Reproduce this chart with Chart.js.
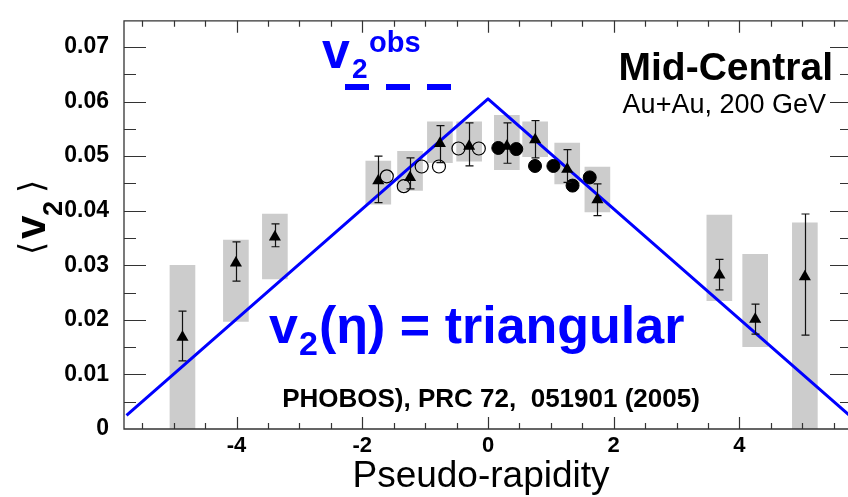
<!DOCTYPE html>
<html>
<head>
<meta charset="utf-8">
<title>PHOBOS v2 vs pseudo-rapidity</title>
<script src="https://cdn.jsdelivr.net/npm/chart.js@4.4.1/dist/chart.umd.min.js"></script>
<style>
  html, body { margin: 0; padding: 0; background: #fff; overflow: hidden; }
  body { width: 848px; height: 497px; }
  #v2-chart { display: block; }
</style>
</head>
<body>
<canvas id="v2-chart" width="860" height="497"></canvas>
<script>
// PHOBOS mid-central Au+Au 200 GeV, <v2> vs eta (triangles: stat errors + systematic bands)
const triEta   = [-4.86, -4.01, -3.39, -1.745, -1.24, -0.765, -0.30, 0.30, 0.75, 1.26, 1.74, 3.68, 4.25, 5.04];
const triV2    = [0.0168, 0.0304, 0.0352, 0.0455, 0.0461, 0.0523, 0.0518, 0.0518, 0.0530, 0.0476, 0.0420, 0.0282, 0.0201, 0.0279];
const triErrLo = [0.0125, 0.0271, 0.0334, 0.0415, 0.0440, 0.0488, 0.0482, 0.0487, 0.0497, 0.0452, 0.0391, 0.0255, 0.0174, 0.0172];
const triErrHi = [0.0216, 0.0343, 0.0376, 0.0500, 0.0497, 0.0556, 0.0561, 0.0561, 0.0565, 0.0512, 0.0449, 0.0311, 0.0229, 0.0394];
const sysLo    = [0.0000, 0.0197, 0.0275, 0.0412, 0.0437, 0.0488, 0.0491, 0.0475, 0.0499, 0.0449, 0.0398, 0.0235, 0.0151, 0.0000];
const sysHi    = [0.0300, 0.0346, 0.0394, 0.0491, 0.0509, 0.0563, 0.0563, 0.0575, 0.0563, 0.0524, 0.0480, 0.0392, 0.0320, 0.0378];

// hit-based points: open circles (eta < 0), filled circles (eta > 0)
const openEta   = [-1.61, -1.34, -1.055, -0.78, -0.47, -0.146];
const openV2    = [0.0463, 0.0445, 0.0481, 0.0481, 0.0514, 0.0514];
const filledEta = [0.164, 0.45, 0.748, 1.04, 1.345, 1.618];
const filledV2  = [0.0515, 0.0513, 0.0482, 0.0482, 0.0446, 0.0461];

// triangular v2(eta) shape
const modelEta = [-5.75, 0, 5.75];
const modelV2  = [0.0025, 0.0605, 0.0025];

const etaTicks = [-4, -2, 0, 2, 4];
const v2Ticks  = [0, 0.01, 0.02, 0.03, 0.04, 0.05, 0.06, 0.07];

const FONT = "'Liberation Sans', Arial, Helvetica, sans-serif";
const BLUE = '#0000ff';

const pts = (xs, ys) => xs.map((x, i) => ({ x: x, y: ys[i] }));

// frame with inward ticks, error bars and the text overlays
const overlay = {
  id: 'overlay',
  beforeDatasetDraw(chart, args) {
    if (args.index !== 0) return;
    const ctx = chart.ctx, xs = chart.scales.x, ys = chart.scales.y;
    ctx.save();
    ctx.strokeStyle = '#111';
    ctx.lineWidth = 1.2;
    triEta.forEach((eta, i) => {
      const px = Math.round(xs.getPixelForValue(eta)) + 0.5;
      const lo = ys.getPixelForValue(triErrLo[i]);
      const hi = ys.getPixelForValue(triErrHi[i]);
      ctx.beginPath();
      ctx.moveTo(px, lo); ctx.lineTo(px, hi);
      ctx.moveTo(px - 4, lo); ctx.lineTo(px + 4, lo);
      ctx.moveTo(px - 4, hi); ctx.lineTo(px + 4, hi);
      ctx.stroke();
    });
    ctx.restore();
  },
  afterDraw(chart) {
    const ctx = chart.ctx, xs = chart.scales.x, ys = chart.scales.y;
    const a = chart.chartArea;
    ctx.save();
    ctx.strokeStyle = '#333';
    ctx.lineWidth = 1.3;
    ctx.beginPath();
    ctx.moveTo(a.right, a.top); ctx.lineTo(a.left, a.top);
    ctx.lineTo(a.left, a.bottom); ctx.lineTo(a.right, a.bottom);
    ctx.lineTo(a.right, a.top);
    ctx.stroke();

    ctx.lineWidth = 1.2;
    ctx.beginPath();
    for (let k = Math.ceil(xs.min / 0.5); k * 0.5 <= xs.max; k++) {
      const px = Math.round(xs.getPixelForValue(k * 0.5)) + 0.5;
      const len = k % 4 === 0 ? 12 : 6;
      ctx.moveTo(px, a.bottom); ctx.lineTo(px, a.bottom - len);
      ctx.moveTo(px, a.top); ctx.lineTo(px, a.top + len);
    }
    for (let k = 1; k * 0.005 <= ys.max; k++) {
      const py = Math.round(ys.getPixelForValue(k * 0.005)) + 0.5;
      const len = k % 2 === 0 ? 22 : 12;
      ctx.moveTo(a.left, py); ctx.lineTo(a.left + len, py);
      ctx.moveTo(a.right, py); ctx.lineTo(a.right - len, py);
    }
    ctx.stroke();

    // y title: <v_2>, rotated
    ctx.save();
    ctx.translate(45, 258);
    ctx.rotate(-Math.PI / 2);
    ctx.fillStyle = '#000';
    ctx.textBaseline = 'alphabetic';
    ctx.font = "34px 'DejaVu Sans'";
    let m = ctx.measureText('\u27E8');
    ctx.fillText('\u27E8', -m.actualBoundingBoxLeft, 3 - m.actualBoundingBoxDescent);
    ctx.font = 'bold 42px ' + FONT;
    ctx.fillText('v', 19, 0);
    ctx.font = 'bold 27px ' + FONT;
    ctx.fillText('2', 42, 17);
    ctx.font = "34px 'DejaVu Sans'";
    m = ctx.measureText('\u27E9');
    ctx.fillText('\u27E9', 63 - m.actualBoundingBoxLeft, 3 - m.actualBoundingBoxDescent);
    ctx.restore();

    // x title
    ctx.fillStyle = '#000';
    ctx.textAlign = 'center';
    ctx.textBaseline = 'alphabetic';
    ctx.font = '37px ' + FONT;
    ctx.fillText('Pseudo-rapidity', 481, 487);

    // v2^obs legend with dashed sample
    ctx.fillStyle = BLUE;
    ctx.textAlign = 'left';
    ctx.font = 'bold 50px ' + FONT;
    ctx.fillText('v', 322, 68);
    ctx.font = 'bold 28px ' + FONT;
    ctx.fillText('2', 352, 78);
    ctx.font = 'bold 29px ' + FONT;
    ctx.fillText('obs', 369, 52);
    ctx.strokeStyle = BLUE;
    ctx.lineWidth = 6;
    ctx.setLineDash([24, 17]);
    ctx.beginPath();
    ctx.moveTo(345, 87); ctx.lineTo(453, 87);
    ctx.stroke();
    ctx.setLineDash([]);

    // v2(eta) = triangular
    ctx.font = 'bold 52px ' + FONT;
    ctx.fillText('v', 269, 343);
    ctx.font = 'bold 34px ' + FONT;
    ctx.fillText('2', 299, 355);
    ctx.font = 'bold 52px ' + FONT;
    ctx.fillText('(\u03B7) = triangular', 319, 343);

    ctx.fillStyle = '#000';
    ctx.textAlign = 'right';
    ctx.font = 'bold 39px ' + FONT;
    ctx.fillText('Mid-Central', 833, 80);
    ctx.font = '27px ' + FONT;
    ctx.fillText('Au+Au, 200 GeV', 826, 113);

    ctx.textAlign = 'center';
    ctx.font = 'bold 26px ' + FONT;
    ctx.fillText('PHOBOS), PRC 72,  051901 (2005)', 491, 407);
    ctx.restore();
  }
};

new Chart(document.getElementById('v2-chart'), {
  type: 'scatter',
  data: {
    datasets: [
      {
        label: 'PHOBOS',
        data: pts(triEta, triV2),
        pointStyle: 'triangle',
        pointRadius: 7,
        backgroundColor: '#000',
        borderColor: '#000',
        borderWidth: 0,
        order: 1
      },
      {
        label: 'hits eta > 0',
        data: pts(filledEta, filledV2),
        pointStyle: 'circle',
        pointRadius: 6.5,
        backgroundColor: '#000',
        borderColor: '#000',
        borderWidth: 1,
        order: 2
      },
      {
        label: 'hits eta < 0',
        data: pts(openEta, openV2),
        pointStyle: 'circle',
        pointRadius: 6.5,
        backgroundColor: 'rgba(0,0,0,0)',
        borderColor: '#000',
        borderWidth: 1.2,
        order: 2
      },
      {
        type: 'line',
        label: 'triangular',
        data: pts(modelEta, modelV2),
        borderColor: BLUE,
        borderWidth: 3,
        borderJoinStyle: 'round',
        pointRadius: 0,
        fill: false,
        tension: 0,
        order: 3
      },
      {
        type: 'bar',
        label: 'systematic',
        data: triEta.map((eta, i) => ({ x: eta, y: [sysLo[i], sysHi[i]] })),
        backgroundColor: '#cccccc',
        borderWidth: 0,
        barThickness: 25,
        grouped: false,
        order: 4
      }
    ]
  },
  options: {
    responsive: false,
    devicePixelRatio: 1,
    animation: false,
    layout: { padding: { left: 0, right: 8, top: 12, bottom: 0 } },
    plugins: {
      legend: { display: false },
      tooltip: { enabled: false }
    },
    scales: {
      x: {
        type: 'linear',
        min: -5.79,
        max: 5.79,
        offset: false,
        afterBuildTicks: s => { s.ticks = etaTicks.map(v => ({ value: v })); },
        afterFit: s => { s.height = 68; },
        grid: { display: false },
        border: { display: false },
        ticks: {
          color: '#000',
          padding: -4,
          autoSkip: false,
          maxRotation: 0,
          font: { family: FONT, size: 22, weight: 'bold' },
          callback: v => String(v)
        }
      },
      y: {
        type: 'linear',
        min: 0,
        max: 0.0748,
        afterBuildTicks: s => { s.ticks = v2Ticks.map(v => ({ value: v })); },
        afterFit: s => { s.width = 124; },
        grid: { display: false },
        border: { display: false },
        ticks: {
          color: '#000',
          padding: 7,
          font: { family: FONT, size: 23, weight: 'bold' },
          callback: v => (v === 0 ? '0' : v.toFixed(2))
        }
      }
    }
  },
  plugins: [overlay]
});
</script>
</body>
</html>
